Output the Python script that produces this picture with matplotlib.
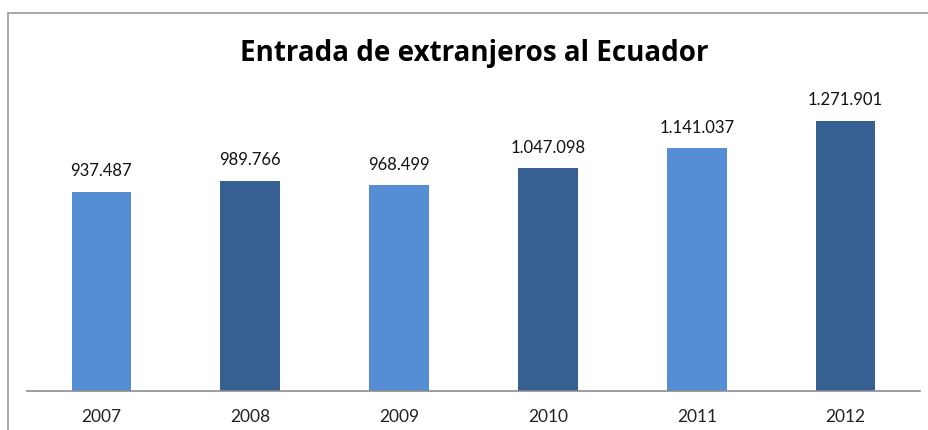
import matplotlib
matplotlib.use("Agg")
import matplotlib.pyplot as plt
from matplotlib.patches import Rectangle

years = ["2007", "2008", "2009", "2010", "2011", "2012"]
values = [937487, 989766, 968499, 1047098, 1141037, 1271901]
labels = ["937.487", "989.766", "968.499", "1.047.098", "1.141.037", "1.271.901"]
colors = ["#558ED5", "#366092", "#558ED5", "#366092", "#558ED5", "#366092"]

W, H = 929, 430
fig = plt.figure(figsize=(W / 100, H / 100), dpi=100)
fig.patch.set_facecolor("white")

# outer frame
fig.patches.append(Rectangle((8 / W, -0.1), 1.2, 1 - 13 / H + 0.1, transform=fig.transFigure,
                             fill=False, edgecolor="#9a9a9a", linewidth=1.2))

ax = fig.add_axes([27 / W, 1 - 390.5 / H, 893 / W, 297 / H])
x = range(len(years))
ax.bar(x, values, width=0.4, color=colors, edgecolor="none")
ax.set_xlim(-0.5, len(years) - 0.5)
ax.set_ylim(0, 1400000)
for s in ["top", "left", "right"]:
    ax.spines[s].set_visible(False)
ax.spines["bottom"].set_color("#8c8c8c")
ax.spines["bottom"].set_linewidth(1.2)
ax.set_yticks([])
ax.set_xticks(list(x))
ax.set_xticklabels(years, fontfamily="Lato", fontsize=12.5, color="#222222")
ax.tick_params(axis="x", length=0, pad=13)
for i, (v, lab) in enumerate(zip(values, labels)):
    ax.annotate(lab, (i, v), xytext=(0, 11), textcoords="offset points", ha="center", va="baseline",
                fontfamily="Lato", fontsize=12, color="#111111")

fig.text(474 / W, 1 - 53 / H, "Entrada de extranjeros al Ecuador", ha="center", va="center",
         fontfamily="Open Sans", fontweight="bold", fontsize=20, color="#000000")

fig.savefig("out.png", dpi=100)
